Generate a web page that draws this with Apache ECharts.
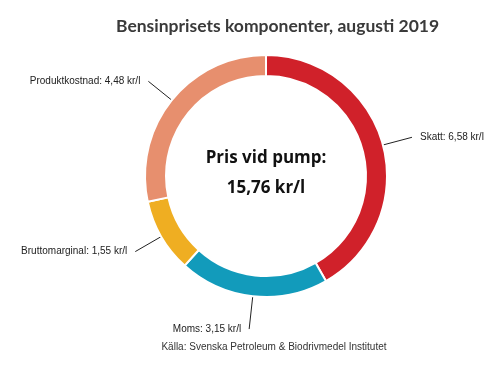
<!DOCTYPE html>
<html>
<head>
<meta charset="utf-8">
<script src="https://cdn.jsdelivr.net/npm/echarts@6/dist/echarts.min.js"></script>
<style>html,body{margin:0;padding:0;background:#fff;}#c{width:500px;height:369px;}</style>
</head>
<body>
<div id="c"></div>
<script>
const categories = ['Skatt', 'Moms', 'Bruttomarginal', 'Produktkostnad'];
const values = [6.58, 3.15, 1.55, 4.48];
const colors = ['#d0212a', '#129bbb', '#efae22', '#e78f6e'];
const titleText = 'Bensinprisets komponenter, augusti 2019';
const sourceText = 'Källa: Svenska Petroleum & Biodrivmedel Institutet';
const centerLabel = 'Pris vid pump:';

const fmt = v => v.toFixed(2).replace('.', ',');
const total = values.reduce((a, b) => a + b, 0);
const lineLen = [30, 33, 30, 30];

const chart = echarts.init(document.getElementById('c'), null, {renderer: 'canvas'});
chart.setOption({
  animation: false,
  backgroundColor: '#fff',
  title: {
    text: titleText,
    left: 111, top: 12,
    textStyle: {fontFamily: 'Lato', fontWeight: 'bold', fontSize: 17.5, color: '#3a3a3a'}
  },
  graphic: [
    {type: 'text', x: 266, y: 158, style: {text: centerLabel, textAlign: 'center', textVerticalAlign: 'middle', font: 'bold 17px "Open Sans"', fill: '#111'}},
    {type: 'text', x: 266, y: 188, style: {text: fmt(total) + ' kr/l', textAlign: 'center', textVerticalAlign: 'middle', font: 'bold 17px "Open Sans"', fill: '#111'}},
    {type: 'text', x: 274, y: 347, style: {text: sourceText, textAlign: 'center', textVerticalAlign: 'middle', font: '10px "Liberation Sans"', fill: '#333'}}
  ],
  series: [{
    type: 'pie',
    center: [266, 176],
    radius: [100, 121],
    startAngle: 90,
    clockwise: true,
    avoidLabelOverlap: false,
    itemStyle: {borderColor: '#fff', borderWidth: 2},
    label: {
      show: true, position: 'outside',
      fontFamily: 'Liberation Sans', fontSize: 10, color: '#222',
      padding: [2, 3, 0, 3],
      formatter: p => p.name + ': ' + fmt(p.value) + ' kr/l'
    },
    labelLine: {show: true, length: 30, length2: 0, smooth: false, lineStyle: {color: '#222', width: 1}},
    emphasis: {disabled: true},
    data: categories.map((c, i) => ({name: c, value: values[i], itemStyle: {color: colors[i]}, labelLine: {length: lineLen[i]}}))
  }]
});
</script>
</body>
</html>
